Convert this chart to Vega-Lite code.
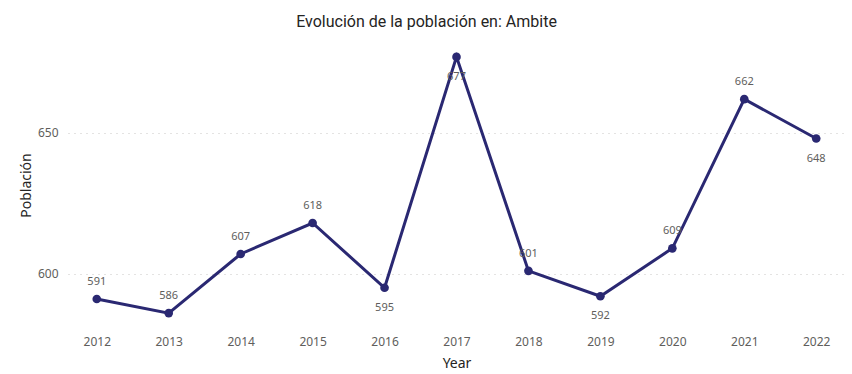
{
  "$schema": "https://vega.github.io/schema/vega-lite/v6.json",
  "autosize": {"type": "none"},
  "width": 777,
  "height": 290,
  "padding": {"left": 68, "top": 40, "right": 7, "bottom": 44},
  "background": "white",
  "title": {
    "text": "Evolución de la población en: Ambite",
    "anchor": "middle",
    "dx": -30,
    "offset": 10,
    "font": "Roboto",
    "fontSize": 16,
    "fontWeight": "normal",
    "color": "#252423"
  },
  "config": {
    "view": {"stroke": null},
    "font": "Noto Sans"
  },
  "data": {
    "values": [
      {"Year": "2012", "Poblacion": 591},
      {"Year": "2013", "Poblacion": 586},
      {"Year": "2014", "Poblacion": 607},
      {"Year": "2015", "Poblacion": 618},
      {"Year": "2016", "Poblacion": 595},
      {"Year": "2017", "Poblacion": 677},
      {"Year": "2018", "Poblacion": 601},
      {"Year": "2019", "Poblacion": 592},
      {"Year": "2020", "Poblacion": 609},
      {"Year": "2021", "Poblacion": 662},
      {"Year": "2022", "Poblacion": 648}
    ]
  },
  "encoding": {
    "x": {
      "field": "Year",
      "type": "ordinal",
      "scale": {"type": "point", "padding": 0.4},
      "axis": {
        "title": "Year",
        "labelAngle": 0,
        "labelFontSize": 12,
        "labelColor": "#605E5C",
        "labelPadding": 6,
        "ticks": false,
        "domain": false,
        "titleFontSize": 14,
        "titleFontWeight": "normal",
        "titleColor": "#252423",
        "titlePadding": 9
      }
    },
    "y": {
      "field": "Poblacion",
      "type": "quantitative",
      "scale": {"domain": [580, 683], "nice": false, "zero": false},
      "axis": {
        "title": "Población",
        "values": [600, 650],
        "labelFontSize": 12,
        "labelColor": "#605E5C",
        "labelPadding": 10,
        "ticks": false,
        "domain": false,
        "grid": true,
        "gridColor": "#C8C6C4",
        "gridDash": [1, 5],
        "gridWidth": 1,
        "titleFontSize": 14,
        "titleFontWeight": "normal",
        "titleColor": "#252423",
        "titlePadding": 4
      }
    }
  },
  "layer": [
    {
      "mark": {"type": "line", "color": "#2A2872", "strokeWidth": 3}
    },
    {
      "mark": {"type": "point", "filled": true, "opacity": 1, "color": "#2A2872", "size": 75}
    },
    {
      "transform": [{"filter": "indexof(['2016','2017','2019','2022'], datum.Year) < 0"}],
      "mark": {"type": "text", "dy": -17, "fontSize": 11, "color": "#605E5C"},
      "encoding": {"text": {"field": "Poblacion", "type": "quantitative"}}
    },
    {
      "transform": [{"filter": "indexof(['2016','2017','2019','2022'], datum.Year) >= 0"}],
      "mark": {"type": "text", "dy": 20, "fontSize": 11, "color": "#605E5C"},
      "encoding": {"text": {"field": "Poblacion", "type": "quantitative"}}
    }
  ]
}
